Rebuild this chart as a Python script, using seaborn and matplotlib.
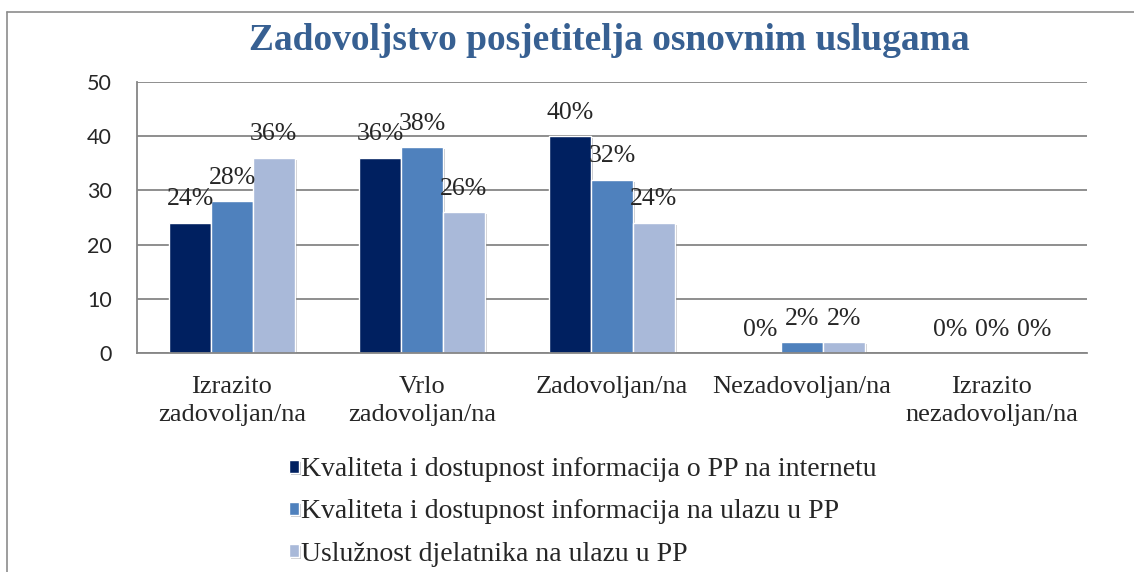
"""
Zadovoljstvo posjetitelja osnovnim uslugama - grouped bar chart.
"""

import seaborn as sns
import matplotlib.pyplot as plt
import matplotlib.patheffects as pe
import pandas as pd
from matplotlib.lines import Line2D

categories = ["Izrazito\nzadovoljan/na", "Vrlo\nzadovoljan/na", "Zadovoljan/na",
              "Nezadovoljan/na", "Izrazito\nnezadovoljan/na"]
series = ["Kvaliteta i dostupnost informacija o PP na internetu",
          "Kvaliteta i dostupnost informacija na ulazu u PP",
          "Uslužnost djelatnika na ulazu u PP"]
internet_vals = [24, 36, 40, 0, 0]
ulaz_vals = [28, 38, 32, 2, 0]
usluznost_vals = [36, 26, 24, 2, 0]
colors = ["#002060", "#4F81BD", "#A9B9D9"]
yticks = [0, 10, 20, 30, 40, 50]

SERIF = "Liberation Serif"
GRID = "#868686"

df = pd.DataFrame({
    "kategorija": categories * 3,
    "serija": [s for s in series for _ in categories],
    "vrijednost": internet_vals + ulaz_vals + usluznost_vals,
})

sns.set_style("white")
fig = plt.figure(figsize=(11.34, 5.72), dpi=100)
ax = fig.add_axes([137 / 1134, 1 - 353 / 572, 950 / 1134, 271 / 572])

sns.barplot(data=df, x="kategorija", y="vrijednost", hue="serija", palette=colors,
            width=0.66, edgecolor="white", linewidth=1.0, saturation=1, ax=ax)

# light drop shadow like the office chart
for bar in ax.patches:
    bar.set_path_effects([pe.SimplePatchShadow(offset=(1.5, -1.5), alpha=0.25), pe.Normal()])

for cont in ax.containers:
    ax.bar_label(cont, labels=[f"{v:.0f}%" for v in cont.datavalues], padding=9,
                 fontsize=18.5, family=SERIF)

ax.set_ylim(0, 50)
ax.set_xlim(-0.5, 4.5)
ax.set_yticks(yticks)
ax.yaxis.grid(True, color=GRID, linewidth=1.3)
ax.set_axisbelow(True)
ax.set(xlabel="", ylabel="")
for side in ["top", "right"]:
    ax.spines[side].set_visible(False)
for side in ["left", "bottom"]:
    ax.spines[side].set_color(GRID)
    ax.spines[side].set_linewidth(1.3)

ax.tick_params(axis="y", length=7, color=GRID, width=1.3, pad=11, labelsize=15.5)
for t in ax.get_yticklabels():
    t.set_family("Lato")
ax.set_xticks(range(len(categories)))
ax.set_xticklabels(categories, family=SERIF, fontsize=19, linespacing=1.35)
ax.tick_params(axis="x", length=0, pad=16.5)
ax.set_xticks([i - 0.5 for i in range(len(categories) + 1)], minor=True)
ax.tick_params(axis="x", which="minor", length=8, color=GRID, width=1.3)

handles, labels = ax.get_legend_handles_labels()
ax.get_legend().remove()
fig.legend(handles, labels, loc="upper left", bbox_to_anchor=(278 / 1134, 1 - 446 / 572),
           frameon=False, prop={"family": SERIF, "size": 20}, handlelength=0.36,
           handleheight=0.36, handletextpad=0.08, labelspacing=0.62, borderaxespad=0)

fig.text(609 / 1134, 1 - 40 / 572, "Zadovoljstvo posjetitelja osnovnim uslugama",
         ha="center", va="center", family=SERIF, fontsize=27, fontweight="bold",
         color="#376092")

# chart border (top and left edges)
fig.add_artist(Line2D([7 / 1134, 1.0], [1 - 11.5 / 572] * 2, transform=fig.transFigure,
                      color="#8C8C8C", linewidth=1.2))
fig.add_artist(Line2D([7 / 1134] * 2, [0.0, 1 - 11.5 / 572], transform=fig.transFigure,
                      color="#8C8C8C", linewidth=1.2))

fig.savefig("out.png", dpi=100)
